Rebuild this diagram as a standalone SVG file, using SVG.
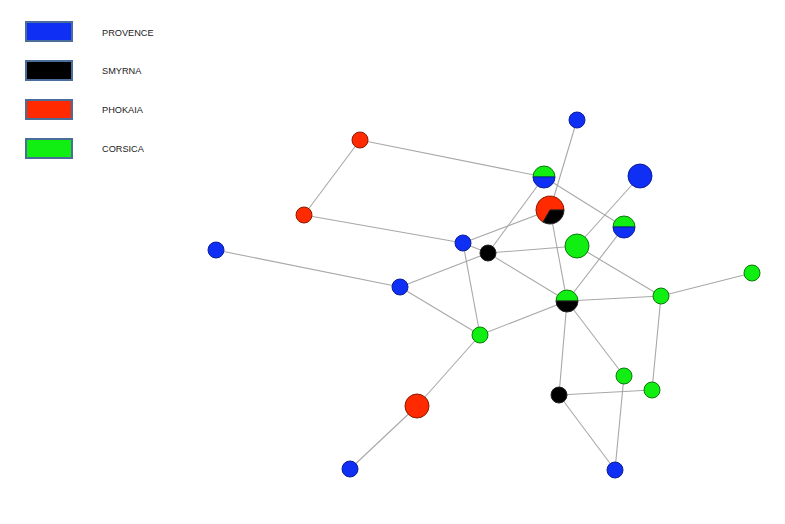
<svg xmlns="http://www.w3.org/2000/svg" width="785" height="524" viewBox="0 0 785 524">
<style>
.e{stroke:#a8a8a8;stroke-width:1.1;fill:none}
.b{fill:#0f2ff5;stroke:#0a1f9a;stroke-width:1}
.k{fill:#000;stroke:#222;stroke-width:1}
.r{fill:#ff2a00;stroke:#8a1a00;stroke-width:1}
.g{fill:#11ee11;stroke:#0a7a0a;stroke-width:1}
.lg{stroke:#4a6d9a;stroke-width:2}
.t{font-family:"Liberation Sans",Arial,sans-serif;font-size:9.2px;fill:#222}
</style>
<rect width="785" height="524" fill="#fff"/>
<g id="legend">
<rect class="lg" x="26" y="22" width="46" height="19" fill="#0f2ff5"/>
<text class="t" x="102" y="35.5">PROVENCE</text>
<rect class="lg" x="26" y="61" width="46" height="19" fill="#000"/>
<text class="t" x="102" y="73.5">SMYRNA</text>
<rect class="lg" x="26" y="100" width="46" height="19" fill="#ff2a00"/>
<text class="t" x="102" y="112.5">PHOKAIA</text>
<rect class="lg" x="26" y="139" width="46" height="19" fill="#11ee11"/>
<text class="t" x="102" y="152">CORSICA</text>
</g>
<g id="edges">
<line class="e" x1="360" y1="140" x2="304" y2="215"/>
<line class="e" x1="360" y1="140" x2="544" y2="177"/>
<line class="e" x1="304" y1="215" x2="463" y2="243"/>
<line class="e" x1="463" y1="243" x2="488" y2="253"/>
<line class="e" x1="463" y1="243" x2="550" y2="210"/>
<line class="e" x1="488" y1="253" x2="544" y2="177"/>
<line class="e" x1="488" y1="253" x2="577" y2="246"/>
<line class="e" x1="488" y1="253" x2="567" y2="301"/>
<line class="e" x1="488" y1="253" x2="400" y2="287"/>
<line class="e" x1="216" y1="250" x2="400" y2="287"/>
<line class="e" x1="400" y1="287" x2="480" y2="335"/>
<line class="e" x1="463" y1="243" x2="480" y2="335"/>
<line class="e" x1="480" y1="335" x2="567" y2="301"/>
<line class="e" x1="480" y1="335" x2="417" y2="406"/>
<line class="e" x1="417" y1="406" x2="350" y2="469"/>
<line class="e" x1="577" y1="120" x2="550" y2="210"/>
<line class="e" x1="544" y1="177" x2="624" y2="227"/>
<line class="e" x1="640" y1="176" x2="577" y2="246"/>
<line class="e" x1="624" y1="227" x2="567" y2="301"/>
<line class="e" x1="577" y1="246" x2="661" y2="296"/>
<line class="e" x1="550" y1="210" x2="567" y2="301"/>
<line class="e" x1="567" y1="301" x2="661" y2="296"/>
<line class="e" x1="661" y1="296" x2="752" y2="273"/>
<line class="e" x1="661" y1="296" x2="652" y2="390"/>
<line class="e" x1="567" y1="301" x2="624" y2="376"/>
<line class="e" x1="567" y1="301" x2="559" y2="395"/>
<line class="e" x1="559" y1="395" x2="652" y2="390"/>
<line class="e" x1="559" y1="395" x2="615" y2="470"/>
<line class="e" x1="624" y1="376" x2="615" y2="470"/>
</g>
<g id="n1"><circle class="b" cx="577" cy="120" r="8"/></g>
<g id="n2"><circle class="r" cx="360" cy="140" r="8"/></g>
<g id="n3">
<path class="g" d="M533,177 A11,11 0 0 1 555,177 Z"/>
<path class="b" d="M555,177 A11,11 0 0 1 533,177 Z"/>
</g>
<g id="n4"><circle class="b" cx="640" cy="176" r="12"/></g>
<g id="n5">
<path class="r" d="M550,210 L543,222.12 A14,14 0 1 1 564,210 Z"/>
<path class="k" d="M550,210 L564,210 A14,14 0 0 1 543,222.12 Z"/>
</g>
<g id="n6"><circle class="r" cx="304" cy="215" r="8"/></g>
<g id="n7">
<path class="g" d="M613,227 A11,11 0 0 1 635,227 Z"/>
<path class="b" d="M635,227 A11,11 0 0 1 613,227 Z"/>
</g>
<g id="n8"><circle class="g" cx="577" cy="246" r="12"/></g>
<g id="n9"><circle class="b" cx="216" cy="250" r="8"/></g>
<g id="n10"><circle class="b" cx="463" cy="243" r="8"/></g>
<g id="n11"><circle class="k" cx="488" cy="253" r="8"/></g>
<g id="n12"><circle class="b" cx="400" cy="287" r="8"/></g>
<g id="n13">
<path class="g" d="M556,301 A11,11 0 0 1 578,301 Z"/>
<path class="k" d="M578,301 A11,11 0 0 1 556,301 Z"/>
</g>
<g id="n14"><circle class="g" cx="661" cy="296" r="8"/></g>
<g id="n15"><circle class="g" cx="752" cy="273" r="8"/></g>
<g id="n16"><circle class="g" cx="480" cy="335" r="8"/></g>
<g id="n17"><circle class="g" cx="624" cy="376" r="8"/></g>
<g id="n18"><circle class="g" cx="652" cy="390" r="8"/></g>
<g id="n19"><circle class="k" cx="559" cy="395" r="8"/></g>
<g id="n20"><circle class="r" cx="417" cy="406" r="12"/></g>
<g id="n21"><circle class="b" cx="350" cy="469" r="8"/></g>
<g id="n22"><circle class="b" cx="615" cy="470" r="8"/></g>
</svg>
